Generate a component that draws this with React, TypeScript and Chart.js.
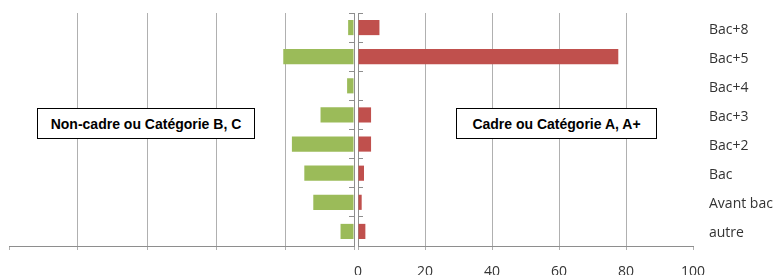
import React, { useEffect, useRef } from 'react';
import { Chart, registerables } from 'chart.js';

Chart.register(...registerables);

const categories = ['Bac+8', 'Bac+5', 'Bac+4', 'Bac+3', 'Bac+2', 'Bac', 'Avant bac', 'autre'];
const nonCadreValues = [1.7, 20.5, 2.0, 9.7, 18.0, 14.4, 11.8, 3.9];
const cadreValues = [6.4, 77.7, 0, 3.9, 3.9, 1.8, 1.1, 2.2];
const xTickValues = [0, 20, 40, 60, 80, 100];
const leftBoxLabel = 'Non-cadre ou Catégorie B, C';
const rightBoxLabel = 'Cadre ou Catégorie A, A+';

const GREEN = '#9BBB59';
const RED = '#C0504D';
const GRID = '#b0b0b0';
const AXIS = '#8e8e8e';
const TEXT = '#333333';
const FONT = '"Open Sans", "Noto Sans", sans-serif';

const H = 275;
const LEFT_W = 356;
const RIGHT_X = 346;
const RIGHT_W = 779 - RIGHT_X;

const gridColor = (ctx: any) => (ctx.tick && ctx.tick.value === 100 ? 'rgba(0,0,0,0)' : GRID);
const setTicks = (s: any) => {
  s.ticks = xTickValues.map((v) => ({ value: v }));
};
const noPad = (s: any) => {
  s.paddingLeft = 0;
  s.paddingRight = 0;
  s.paddingTop = 0;
  s.paddingBottom = 0;
};

export default function App() {
  const leftRef = useRef<HTMLCanvasElement>(null);
  const rightRef = useRef<HTMLCanvasElement>(null);

  useEffect(() => {
    const left = new Chart(leftRef.current as HTMLCanvasElement, {
      type: 'bar',
      data: {
        labels: categories,
        datasets: [
          {
            data: nonCadreValues,
            backgroundColor: GREEN,
            barPercentage: 0.52,
            categoryPercentage: 1,
            xAxisID: 'x',
            yAxisID: 'y',
          },
        ],
      },
      options: {
        indexAxis: 'y',
        responsive: false,
        animation: false,
        layout: { padding: { left: 9, right: 2, top: 13, bottom: 0 } },
        plugins: { legend: { display: false }, tooltip: { enabled: false } },
        scales: {
          x: {
            type: 'linear',
            position: 'bottom',
            min: 0,
            max: 100,
            reverse: true,
            afterBuildTicks: setTicks,
            afterFit: (s: any) => {
              s.height = H - 246;
              noPad(s);
            },
            ticks: { display: false },
            grid: { color: gridColor, tickColor: GRID, tickLength: 4 },
            border: { color: AXIS },
          },
          y: {
            type: 'category',
            position: 'right',
            offset: true,
            afterFit: (s: any) => {
              s.width = 0;
              noPad(s);
            },
            ticks: { display: false },
            grid: { offset: true, drawOnChartArea: false, tickLength: -5, color: AXIS },
            border: { color: AXIS },
          },
        },
      },
    });

    const right = new Chart(rightRef.current as HTMLCanvasElement, {
      type: 'bar',
      data: {
        labels: categories,
        datasets: [
          {
            data: cadreValues,
            backgroundColor: RED,
            barPercentage: 0.52,
            categoryPercentage: 1,
            xAxisID: 'x',
            yAxisID: 'y',
          },
        ],
      },
      options: {
        indexAxis: 'y',
        responsive: false,
        animation: false,
        layout: { padding: { left: 358 - RIGHT_X, right: 0, top: 13, bottom: 0 } },
        plugins: { legend: { display: false }, tooltip: { enabled: false } },
        scales: {
          x: {
            type: 'linear',
            position: 'bottom',
            min: 0,
            max: 100,
            afterBuildTicks: setTicks,
            afterFit: (s: any) => {
              s.height = H - 246;
              noPad(s);
            },
            ticks: { color: TEXT, font: { family: FONT, size: 14 }, padding: 14, maxRotation: 0 },
            grid: { color: gridColor, tickColor: GRID, tickLength: 4 },
            border: { color: AXIS },
          },
          yTicks: {
            type: 'category',
            position: 'left',
            offset: true,
            afterFit: (s: any) => {
              s.width = 0;
              noPad(s);
            },
            ticks: { display: false },
            grid: { offset: true, drawOnChartArea: false, tickLength: -5, color: AXIS },
            border: { color: AXIS },
          },
          y: {
            type: 'category',
            position: 'right',
            offset: true,
            afterFit: (s: any) => {
              s.width = 779 - 693;
              noPad(s);
            },
            ticks: {
              color: TEXT,
              font: { family: FONT, size: 14 },
              padding: 16,
              crossAlign: 'near',
              labelOffset: 2,
            },
            grid: { display: false, drawTicks: false },
            border: { display: false },
          },
        },
      },
    });

    return () => {
      left.destroy();
      right.destroy();
    };
  }, []);

  const boxStyle: React.CSSProperties = {
    position: 'absolute',
    top: 108,
    height: 31,
    boxSizing: 'border-box',
    border: '1px solid #000',
    background: '#fff',
    fontFamily: '"Liberation Sans", Arial, sans-serif',
    fontWeight: 'bold',
    fontSize: 14,
    color: '#000',
    display: 'flex',
    alignItems: 'center',
    justifyContent: 'center',
    zIndex: 2,
    whiteSpace: 'nowrap',
  };

  return (
    <div style={{ position: 'absolute', left: 0, top: 0, width: 779, height: H, background: '#fff', overflow: 'hidden' }}>
      <canvas
        ref={leftRef}
        width={LEFT_W}
        height={H}
        style={{ position: 'absolute', left: 0, top: 0, width: LEFT_W, height: H }}
      />
      <canvas
        ref={rightRef}
        width={RIGHT_W}
        height={H}
        style={{ position: 'absolute', left: RIGHT_X, top: 0, width: RIGHT_W, height: H }}
      />
      <div style={{ ...boxStyle, left: 37, width: 218 }}>{leftBoxLabel}</div>
      <div style={{ ...boxStyle, left: 456, width: 201 }}>{rightBoxLabel}</div>
    </div>
  );
}
